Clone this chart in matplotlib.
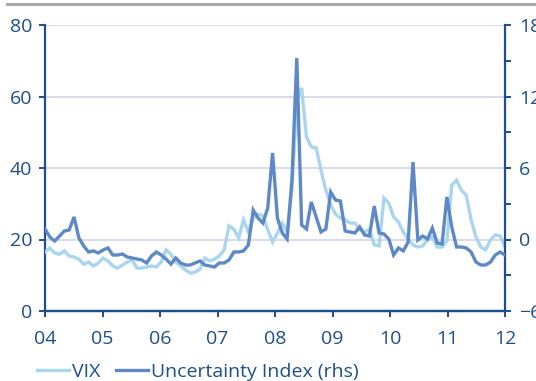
import numpy as np
import matplotlib
matplotlib.use("Agg")
import matplotlib.pyplot as plt
from matplotlib.ticker import MultipleLocator

plt.rcParams['font.family'] = ['Open Sans', 'DejaVu Sans']

# Monthly observations, Jan 2004 - Dec 2011
vix = [16.5, 17.6, 16.2, 15.9, 16.8, 15.4, 15.1, 14.5, 13.1, 13.7, 12.6, 13.4,
       14.8, 14.0, 12.6, 12.0, 12.9, 13.7, 14.3, 12.0, 12.0, 12.3, 12.6, 12.3,
       13.7, 17.1, 15.9, 13.7, 12.6, 11.5, 10.6, 10.9, 11.7, 14.8, 14.0, 14.5,
       15.4, 17.1, 23.8, 22.9, 20.4, 25.5, 22.1, 26.0, 27.1, 26.6, 22.7, 19.3,
       21.8, 24.6, 22.1, 33.8, 59.0, 62.4, 48.7, 45.9, 45.6, 39.4, 33.8, 29.7,
       27.1, 26.0, 25.5, 24.6, 24.6, 22.7, 22.1, 22.9, 18.5, 18.2, 31.6, 30.2,
       26.3, 24.9, 22.1, 20.1, 18.5, 17.9, 18.2, 19.9, 20.7, 17.9, 17.9, 19.6,
       35.2, 36.6, 33.8, 32.4, 25.5, 20.7, 17.9, 17.1, 19.9, 21.3, 21.0, 17.9]

uncertainty = [0.88, 0.21, -0.13, 0.29, 0.71, 0.80, 1.89, 0.13, -0.55, -1.05, -0.96, -1.13,
               -0.88, -0.71, -1.30, -1.30, -1.22, -1.47, -1.55, -1.64, -1.72, -1.97, -1.38, -1.05,
               -1.30, -1.64, -2.06, -1.55, -1.97, -2.14, -2.14, -1.97, -1.80, -2.14, -2.22, -2.31,
               -1.97, -1.97, -1.72, -1.05, -1.05, -0.96, -0.46, 2.47, 1.80, 1.38, 2.64, 7.26,
               1.80, 0.55, 0.04, 5.00, 15.23, 1.22, 0.88, 3.15, 1.89, 0.63, 0.88, 3.98,
               3.31, 3.23, 0.71, 0.63, 0.55, 1.05, 0.38, 0.29, 2.81, 0.55, 0.46, 0.04,
               -1.30, -0.71, -0.96, -0.21, 6.50, -0.04, 0.29, 0.04, 0.96, -0.29, -0.38, 3.57,
               1.05, -0.63, -0.63, -0.71, -1.05, -1.89, -2.14, -2.14, -1.89, -1.30, -1.05, -1.30]

year_labels = ['04', '05', '06', '07', '08', '09', '10', '11', '12']

navy = '#1c4f8c'
light = '#a9d5ee'
mid = '#5d89c6'
grid_col = '#d3d6ea'

n = len(vix)
t = np.linspace(0, len(year_labels) - 1, n)

fig = plt.figure(figsize=(5.36, 3.81), dpi=100)
ax = fig.add_axes([45 / 536, 70 / 381, 460 / 536, 286 / 381])
ax2 = ax.twinx()

ax.plot(t, vix, color=light, lw=2.4, solid_joinstyle='miter', zorder=3)
ax2.plot(t, uncertainty, color=mid, lw=2.4, solid_joinstyle='miter', zorder=3)

ax.set_xlim(0, len(year_labels) - 1)
ax.set_ylim(0, 80)
ax2.set_ylim(-6, 18)

ax.set_yticks([0, 20, 40, 60, 80])
ax2.set_yticks([-6, 0, 6, 12, 18])
ax2.yaxis.set_minor_locator(MultipleLocator(3))
ax.set_xticks(range(len(year_labels)))
ax.set_xticklabels(year_labels)

for y in [20, 40, 60, 80]:
    ax.axhline(y, color=grid_col, lw=1.2, zorder=1)

for a in (ax, ax2):
    a.spines['top'].set_visible(False)
    for s in ('left', 'right', 'bottom'):
        a.spines[s].set_color(navy)
        a.spines[s].set_linewidth(1.6)
    a.tick_params(colors=navy, labelsize=14, width=1.4, length=4, direction='out')
    a.tick_params(which='minor', colors=navy, width=1.4, length=4, direction='out')
    a.set_facecolor('none')
ax.spines['right'].set_visible(False)
ax2.spines['left'].set_visible(False)
ax.tick_params(axis='y', pad=5)
ax2.tick_params(axis='y', pad=6)
ax.tick_params(axis='x', pad=10)

# thin rule across the top of the figure
fig.add_artist(plt.Line2D([7 / 536, 1], [1 - 3.5 / 381, 1 - 3.5 / 381],
                          color='#a3a3a3', lw=2, transform=fig.transFigure))

h1, = ax.plot([], [], color=light, lw=2.4)
h2, = ax.plot([], [], color=mid, lw=2.4)
leg = fig.legend([h1, h2], ['VIX', 'Uncertainty Index (rhs)'],
                 loc='center left', bbox_to_anchor=(37 / 536, 1 - 372 / 381),
                 ncol=2, frameon=False, fontsize=14, handlelength=1.65,
                 handletextpad=0.15, columnspacing=0.8, borderaxespad=0,
                 borderpad=0)
for txt in leg.get_texts():
    txt.set_color(navy)

fig.savefig('out.png', dpi=100)
